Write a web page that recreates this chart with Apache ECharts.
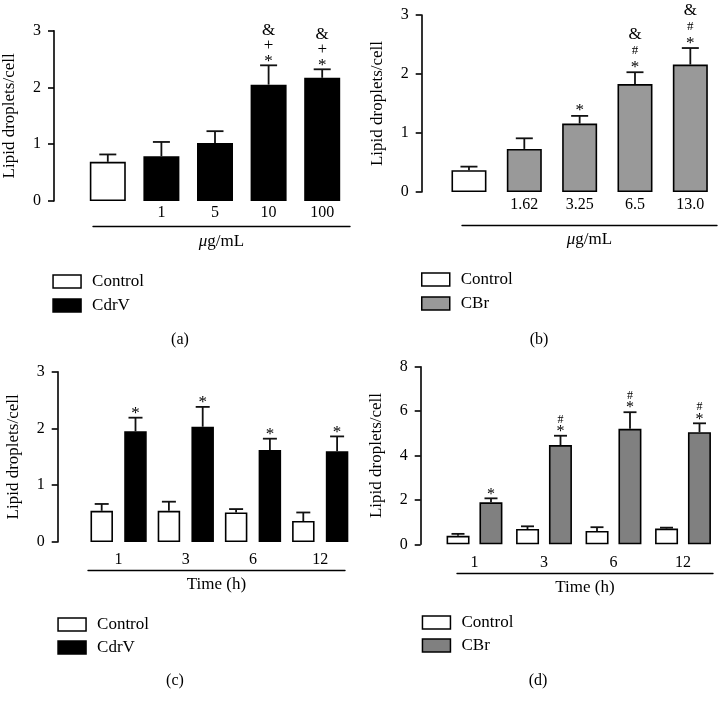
<!DOCTYPE html>
<html><head><meta charset="utf-8">
<script src="https://cdn.jsdelivr.net/npm/echarts@6/dist/echarts.min.js"></script>
<style>html,body{margin:0;padding:0;background:#fff}#c{width:718px;height:703px}</style>
</head><body><div id="c"></div>
<script>
const FONT = '"Liberation Serif", "Times New Roman", serif';

// ---------- Panel (a): CdrV dose ----------
const aCategories = ['', '1', '5', '10', '100'];
const aControl = [0.69, null, null, null, null];
const aCdrV = [null, 0.79, 1.02, 2.05, 2.17];
const aError = [0.13, 0.25, 0.21, 0.34, 0.15];
const aMarks = [[], [], [], ['*', '+', '&'], ['*', '+', '&']];

// ---------- Panel (b): CBr dose ----------
const bCategories = ['', '1.62', '3.25', '6.5', '13.0'];
const bControl = [0.37, null, null, null, null];
const bCBr = [null, 0.73, 1.16, 1.83, 2.16];
const bError = [0.06, 0.18, 0.13, 0.20, 0.28];
const bMarks = [[], [], ['*'], ['*', '#', '&'], ['*', '#', '&']];

// ---------- Panel (c): CdrV time ----------
const cCategories = ['1', '3', '6', '12'];
const cControl = [0.55, 0.55, 0.52, 0.37];
const cControlErr = [0.12, 0.16, 0.06, 0.15];
const cCdrV = [1.95, 2.03, 1.62, 1.60];
const cCdrVErr = [0.24, 0.35, 0.20, 0.26];
const cMarks = [['*'], ['*'], ['*'], ['*']];

// ---------- Panel (d): CBr time ----------
const dCategories = ['1', '3', '6', '12'];
const dControl = [0.38, 0.69, 0.60, 0.71];
const dControlErr = [0.09, 0.12, 0.17, 0.04];
const dCBr = [1.89, 4.47, 5.20, 5.05];
const dCBrErr = [0.18, 0.42, 0.75, 0.40];
const dMarks = [['*'], ['*', '#'], ['*', '#'], ['*', '#']];

const yTitle = 'Lipid droplets/cell';
const doseTitle = '{i|\u03bc}g/mL';
const timeTitle = 'Time (h)';

const chart = echarts.init(document.getElementById('c'));
const grid = [], xAxis = [], yAxis = [], series = [], legend = [], title = [];
const INK = '#000';

function errSeries(gi, means, errs, marks, offsetPx, capW, mk) {
  return {
    type: 'custom', xAxisIndex: gi, yAxisIndex: gi, z: 5, clip: false, silent: true,
    data: means.map((m, i) => [i, m == null ? 0 : m, errs[i] == null ? 0 : errs[i]]),
    encode: { x: 0, y: 1 },
    renderItem: function (params, api) {
      const i = params.dataIndex;
      const m = means[i];
      if (m == null) return null;
      const base = api.coord([i, m]);
      const top = api.coord([i, m + errs[i]]);
      const x = base[0] + offsetPx;
      const ch = [
        { type: 'line', shape: { x1: x, y1: base[1], x2: x, y2: top[1] }, style: { stroke: '#111', lineWidth: 1.8 } },
        { type: 'line', shape: { x1: x - capW / 2, y1: top[1], x2: x + capW / 2, y2: top[1] }, style: { stroke: '#111', lineWidth: 1.8 } }
      ];
      (marks ? marks[i] : []).forEach((s, k) => {
        ch.push({ type: 'text', x: x, y: top[1] - mk.first - k * mk.step,
          style: { text: s, fontFamily: FONT, fontSize: s === '#' ? mk.hash : mk.size, fill: INK, align: 'center', verticalAlign: 'middle' } });
      });
      return { type: 'group', children: ch };
    }
  };
}

function panel(p, cfg) {
  const gi = 2 * p, ui = 2 * p + 1;
  grid.push({ left: cfg.left, top: cfg.top, width: cfg.width, height: cfg.height });
  grid.push({ left: cfg.ulLeft, top: cfg.ulY - 1, width: cfg.ulWidth, height: 1 });
  xAxis.push({ gridIndex: gi, type: 'category', data: cfg.cats,
    axisLine: { show: false }, axisTick: { show: false }, splitLine: { show: false },
    axisLabel: { margin: cfg.labelMargin, color: INK, fontFamily: FONT, fontSize: 16 } });
  xAxis.push({ gridIndex: ui, type: 'value', min: 0, max: 1,
    axisLine: { show: true, lineStyle: { color: INK, width: 1.4 } }, axisTick: { show: false },
    axisLabel: { show: false }, splitLine: { show: false },
    name: cfg.xName, nameLocation: 'middle', nameGap: cfg.xNameGap,
    nameTextStyle: { color: INK, fontFamily: FONT, fontSize: 17,
      rich: { i: { fontStyle: 'italic', fontFamily: FONT, fontSize: 17, color: INK } } } });
  yAxis.push({ gridIndex: gi, type: 'value', min: 0, max: cfg.yMax, interval: cfg.yInterval,
    offset: cfg.left - cfg.axisX,
    axisLine: { show: true, lineStyle: { color: INK, width: 1.6 } },
    axisTick: { show: true, length: 6, lineStyle: { color: INK, width: 1.6 } },
    splitLine: { show: false },
    axisLabel: { margin: 13, color: INK, fontFamily: FONT, fontSize: 16 },
    name: yTitle, nameLocation: 'middle', nameGap: 36,
    nameTextStyle: { color: INK, fontFamily: FONT, fontSize: 17 } });
  yAxis.push({ gridIndex: ui, type: 'value', show: false });
  legend.push({ left: cfg.legLeft, top: cfg.legTop, orient: 'vertical', padding: 0,
    itemWidth: 28, itemHeight: 13, itemGap: cfg.legGap, icon: 'rect', selectedMode: false,
    textStyle: { color: INK, fontFamily: FONT, fontSize: 17, padding: [0, 0, 0, 6] },
    data: [
      { name: 'Control', itemStyle: { color: '#fff', borderColor: INK, borderWidth: 1.5 } },
      { name: cfg.treatName, itemStyle: { color: cfg.treatColor, borderColor: INK, borderWidth: 1.5 } }
    ] });
  title.push({ text: cfg.tag, left: cfg.tagX, top: cfg.tagY, textAlign: 'center', padding: 0,
    textStyle: { color: INK, fontFamily: FONT, fontSize: 16, fontWeight: 'normal' } });
}

// Panel a
panel(0, { left: 80.3, top: 30.7, width: 268.7, height: 170.3, axisX: 53.3, yMax: 3, yInterval: 1,
  cats: aCategories, labelMargin: 4, ulLeft: 93, ulWidth: 257, ulY: 226.7, xName: doseTitle, xNameGap: 6,
  legLeft: 52.3, legTop: 273, legGap: 7, treatName: 'CdrV', treatColor: '#000', tag: '(a)', tagX: 180, tagY: 332 });
series.push({ type: 'bar', name: 'Control', xAxisIndex: 0, yAxisIndex: 0, data: aControl, barWidth: 36, barGap: '-100%',
  itemStyle: { color: '#fff', borderColor: INK, borderWidth: 1.6 } });
series.push({ type: 'bar', name: 'CdrV', xAxisIndex: 0, yAxisIndex: 0, data: aCdrV, barWidth: 36, barGap: '-100%',
  itemStyle: { color: '#000', borderColor: INK, borderWidth: 1.6 } });
series.push(errSeries(0, aControl.map((v, i) => v != null ? v : aCdrV[i]), aError, aMarks, 0, 17,
  { first: 4, step: 15.5, size: 17, hash: 13 }));

// Panel b
panel(1, { left: 441.3, top: 15, width: 277, height: 177, axisX: 421.7, yMax: 3, yInterval: 1,
  cats: bCategories, labelMargin: 5, ulLeft: 462, ulWidth: 255, ulY: 225.3, xName: doseTitle, xNameGap: 6,
  legLeft: 421, legTop: 271, legGap: 7, treatName: 'CBr', treatColor: '#999999', tag: '(b)', tagX: 539, tagY: 332 });
series.push({ type: 'bar', name: 'Control', xAxisIndex: 2, yAxisIndex: 2, data: bControl, barWidth: 35, barGap: '-100%',
  itemStyle: { color: '#fff', borderColor: INK, borderWidth: 1.6 } });
series.push({ type: 'bar', name: 'CBr', xAxisIndex: 2, yAxisIndex: 2, data: bCBr, barWidth: 35, barGap: '-100%',
  itemStyle: { color: '#999999', borderColor: INK, borderWidth: 1.6 } });
series.push(errSeries(2, bControl.map((v, i) => v != null ? v : bCBr[i]), bError, bMarks, 0, 17,
  { first: 5, step: 16.5, size: 17, hash: 13 }));

// Panel c
panel(2, { left: 85, top: 371.7, width: 268.8, height: 170.3, axisX: 57.7, yMax: 3, yInterval: 1,
  cats: cCategories, labelMargin: 10, ulLeft: 88, ulWidth: 257, ulY: 570, xName: timeTitle, xNameGap: 6,
  legLeft: 57.3, legTop: 616, legGap: 6, treatName: 'CdrV', treatColor: '#000', tag: '(c)', tagX: 175, tagY: 673 });
series.push({ type: 'bar', name: 'Control', xAxisIndex: 4, yAxisIndex: 4, data: cControl, barWidth: 22.5, barGap: '50%',
  itemStyle: { color: '#fff', borderColor: INK, borderWidth: 1.6 } });
series.push({ type: 'bar', name: 'CdrV', xAxisIndex: 4, yAxisIndex: 4, data: cCdrV, barWidth: 22.5, barGap: '50%',
  itemStyle: { color: '#000', borderColor: INK, borderWidth: 1.6 } });
series.push(errSeries(4, cControl, cControlErr, null, -16.9, 14, { first: 4, step: 14, size: 17, hash: 13 }));
series.push(errSeries(4, cCdrV, cCdrVErr, cMarks, 16.9, 14, { first: 4, step: 14, size: 17, hash: 13 }));

// Panel d
panel(3, { left: 439.75, top: 366.7, width: 278, height: 177.6, axisX: 420.7, yMax: 8, yInterval: 2,
  cats: dCategories, labelMargin: 10, ulLeft: 457, ulWidth: 256, ulY: 573.3, xName: timeTitle, xNameGap: 6,
  legLeft: 421.7, legTop: 614, legGap: 6, treatName: 'CBr', treatColor: '#808080', tag: '(d)', tagX: 538, tagY: 673 });
series.push({ type: 'bar', name: 'Control', xAxisIndex: 6, yAxisIndex: 6, data: dControl, barWidth: 23, barGap: '43%',
  itemStyle: { color: '#fff', borderColor: INK, borderWidth: 1.6 } });
series.push({ type: 'bar', name: 'CBr', xAxisIndex: 6, yAxisIndex: 6, data: dCBr, barWidth: 23, barGap: '43%',
  itemStyle: { color: '#808080', borderColor: INK, borderWidth: 1.6 } });
series.push(errSeries(6, dControl, dControlErr, null, -16.5, 13, { first: 4, step: 12, size: 16, hash: 12 }));
series.push(errSeries(6, dCBr, dCBrErr, dMarks, 16.5, 13, { first: 4, step: 12, size: 16, hash: 12 }));

chart.setOption({
  animation: false,
  backgroundColor: '#fff',
  title: title, grid: grid, xAxis: xAxis, yAxis: yAxis, legend: legend, series: series
});
</script></body></html>
